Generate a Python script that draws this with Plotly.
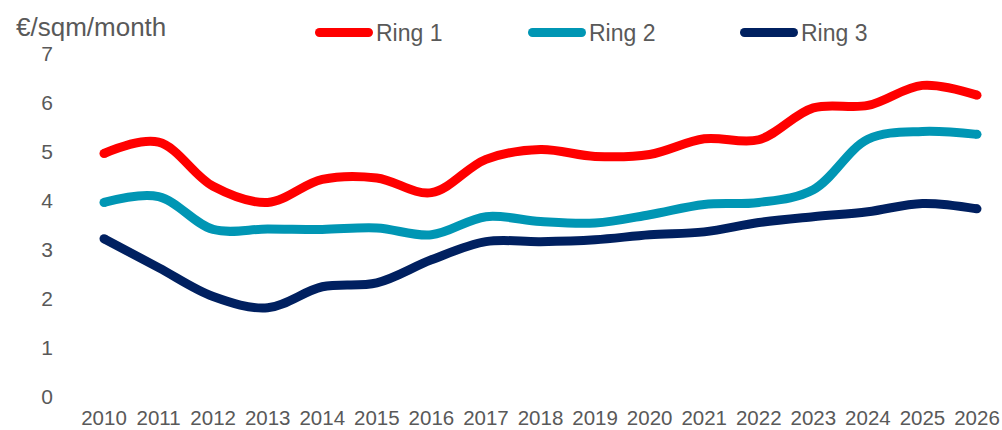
import plotly.graph_objects as go

years = list(range(2010, 2027))
ring1 = [4.97, 5.20, 4.30, 3.97, 4.44, 4.47, 4.17, 4.85, 5.05, 4.91, 4.95, 5.27, 5.25, 5.90, 5.95, 6.36, 6.16]
ring2 = [3.97, 4.09, 3.42, 3.43, 3.42, 3.45, 3.31, 3.68, 3.58, 3.55, 3.72, 3.93, 3.97, 4.23, 5.26, 5.42, 5.36]
ring3 = [3.23, 2.64, 2.05, 1.82, 2.25, 2.33, 2.80, 3.17, 3.17, 3.21, 3.31, 3.37, 3.56, 3.68, 3.78, 3.95, 3.84]
series_names = ["Ring 1", "Ring 2", "Ring 3"]
y_ticks = [0, 1, 2, 3, 4, 5, 6, 7]
unit_label = "€/sqm/month"

colors = ["#FF0000", "#0096B4", "#002060"]
text_color = "#595959"
font_family = "Liberation Sans, Arial, sans-serif"

W, H = 1002, 430
L, R, T, B = 60, 10, 54, 33
pw, ph = W - L - R, H - T - B
LW = 9

def px(x):
    return (x - L) / pw

def py(y):
    return (H - B - y) / ph

fig = go.Figure()
for name, vals, col in zip(series_names, [ring1, ring2, ring3], colors):
    fig.add_trace(go.Scatter(
        x=years, y=vals, name=name, mode="lines",
        line=dict(color=col, width=LW, shape="spline", smoothing=1.0),
        showlegend=False, hoverinfo="x+y+name",
    ))
    # round end caps
    fig.add_trace(go.Scatter(
        x=[years[0], years[-1]], y=[vals[0], vals[-1]], mode="markers",
        marker=dict(color=col, size=LW, line=dict(width=0)),
        showlegend=False, hoverinfo="skip",
    ))

# custom legend
leg_x = [315, 528, 740]
leg_y = 32.5
shapes = []
annotations = []
r = LW / 2.0
for name, col, lx in zip(series_names, colors, leg_x):
    x0, x1 = lx + r, lx + 58 - r
    shapes.append(dict(type="line", xref="paper", yref="paper",
                       x0=px(x0), x1=px(x1), y0=py(leg_y), y1=py(leg_y),
                       line=dict(color=col, width=LW)))
    for cx in (x0, x1):
        shapes.append(dict(type="circle", xref="paper", yref="paper",
                           x0=px(cx - r), x1=px(cx + r), y0=py(leg_y + r), y1=py(leg_y - r),
                           fillcolor=col, line=dict(width=0)))
    annotations.append(dict(xref="paper", yref="paper", x=px(lx + 59), y=py(leg_y),
                            xanchor="left", yanchor="middle", showarrow=False,
                            text=name, font=dict(size=23, color=text_color, family=font_family)))

annotations.append(dict(xref="paper", yref="paper", x=px(14), y=py(27),
                        xanchor="left", yanchor="middle", showarrow=False,
                        text=unit_label, font=dict(size=26, color=text_color, family=font_family)))

x_per_year = (977 - 104) / 16.0
fig.update_layout(
    width=W, height=H,
    margin=dict(l=L, r=R, t=T, b=B, pad=0, autoexpand=False),
    plot_bgcolor="white", paper_bgcolor="white",
    font=dict(family=font_family, color=text_color, size=21),
    shapes=shapes, annotations=annotations,
    xaxis=dict(
        range=[2010 - (104 - L) / x_per_year, 2026 + (W - R - 977) / x_per_year],
        tickmode="array", tickvals=years, ticktext=[str(y) for y in years],
        showgrid=False, zeroline=False, showline=False, ticks="", automargin=False,
        tickfont=dict(size=20.5, color=text_color), ticklabelstandoff=6,
    ),
    yaxis=dict(
        range=[0, 7], tickmode="array", tickvals=y_ticks,
        showgrid=False, zeroline=False, showline=False, ticks="", automargin=False,
        tickfont=dict(size=21, color=text_color), ticklabelstandoff=6,
    ),
)

fig.write_html("out.html", config={"displayModeBar": False},
               post_script="document.body.style.margin='0';")
